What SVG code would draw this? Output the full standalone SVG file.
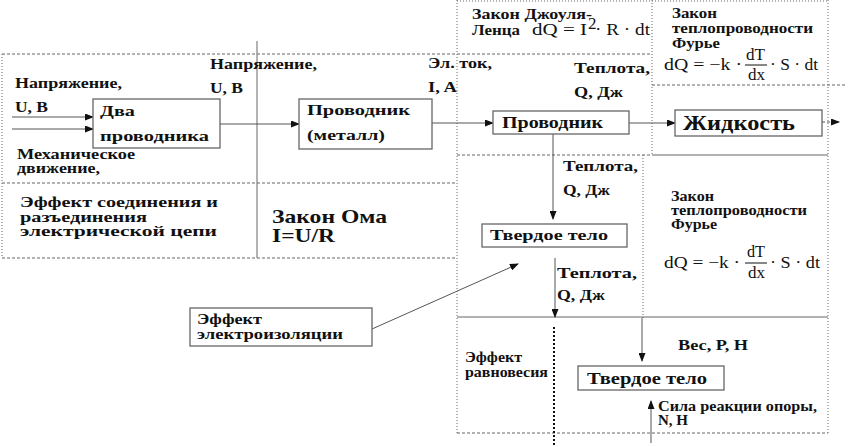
<svg xmlns="http://www.w3.org/2000/svg" width="864" height="447" viewBox="0 0 864 447" font-family="'Liberation Serif', 'DejaVu Serif', serif">
<style>
text{font-family:'Liberation Serif','DejaVu Serif',serif;font-weight:bold;fill:#111;}
.t{font-size:14px;}
.f{font-weight:normal;font-size:17px;}
.box{fill:#fff;stroke:#666;stroke-width:1.3;}
.dash{fill:none;stroke:#666;stroke-width:1;stroke-dasharray:3,2;}
.dot{fill:none;stroke:#666;stroke-width:1;stroke-dasharray:1,2;}
.solid{fill:none;stroke:#666;stroke-width:1;}
.con{fill:none;stroke:#555;stroke-width:1;marker-end:url(#ah);}
</style>
<defs>
<marker id="ah" markerWidth="9" markerHeight="7" refX="8" refY="3.5" orient="auto" markerUnits="userSpaceOnUse">
<path d="M0,0 L9,3.5 L0,7 Z" fill="#111"/>
</marker>
</defs>
<rect width="864" height="447" fill="#fff"/>
<g id="frames">
<line class="dot" x1="2" y1="54" x2="2" y2="258"/>
<line class="dash" x1="2" y1="54" x2="652" y2="54"/>
<line class="dash" x1="2" y1="183" x2="457" y2="183"/>
<line class="dash" x1="2" y1="258" x2="457" y2="258"/>
<line class="solid" x1="257" y1="41" x2="257" y2="258"/>
<line class="dot" x1="457" y1="0" x2="457" y2="433"/>
<line class="dot" x1="457" y1="1" x2="828" y2="1"/>
<line class="dot" x1="652" y1="0" x2="652" y2="155"/>
<line class="dash" x1="652" y1="85" x2="847" y2="85"/>
<line class="dot" x1="828" y1="0" x2="828" y2="433"/>
<line class="dash" x1="457" y1="155" x2="652" y2="155"/>
<line class="solid" x1="652" y1="155" x2="828" y2="155"/>
<line class="dot" x1="643" y1="155" x2="643" y2="318"/>
<line class="solid" x1="457" y1="317" x2="828" y2="317"/>
<line class="dash" x1="457" y1="433" x2="828" y2="433"/>
<line x1="554" y1="327" x2="554" y2="447" stroke="#111" stroke-width="2" stroke-dasharray="2,2"/>
</g>
<g id="connectors">
<line class="con" x1="12" y1="117" x2="93" y2="117"/>
<line class="con" x1="12" y1="129" x2="93" y2="129"/>
<line class="con" x1="220" y1="124" x2="299" y2="124"/>
<line class="con" x1="432" y1="123" x2="493" y2="123"/>
<line class="con" x1="629" y1="123" x2="675" y2="123"/>
<line class="con" x1="822" y1="122" x2="839" y2="122" stroke-dasharray="3,2"/>
<line class="con" x1="553" y1="134" x2="553" y2="219"/>
<line class="con" x1="555" y1="258" x2="555" y2="317"/>
<line class="con" x1="372" y1="329" x2="518" y2="264"/>
<line class="con" x1="642" y1="318" x2="642" y2="361"/>
<line class="con" x1="651" y1="443" x2="651" y2="401"/>
</g>
<g id="labels-left">
<text class="t" x="15" y="88" textLength="107" lengthAdjust="spacingAndGlyphs">Напряжение,</text>
<text class="t" x="15" y="112" textLength="33" lengthAdjust="spacingAndGlyphs">U, B</text>
<text class="t" x="17" y="159" textLength="118" lengthAdjust="spacingAndGlyphs">Механическое</text>
<text class="t" x="17" y="173" textLength="83" lengthAdjust="spacingAndGlyphs">движение,</text>
<text class="t" x="210" y="69" textLength="107" lengthAdjust="spacingAndGlyphs">Напряжение,</text>
<text class="t" x="210" y="93" textLength="33" lengthAdjust="spacingAndGlyphs">U, B</text>
<text class="t" x="428" y="68" textLength="64" lengthAdjust="spacingAndGlyphs">Эл. ток,</text>
<text class="t" x="428" y="92" textLength="29" lengthAdjust="spacingAndGlyphs">I, A</text>
<text class="t" x="574" y="73" textLength="76" lengthAdjust="spacingAndGlyphs">Теплота,</text>
<text class="t" x="574" y="97" textLength="49" lengthAdjust="spacingAndGlyphs">Q, Дж</text>
<text class="t" x="563" y="171" textLength="75" lengthAdjust="spacingAndGlyphs">Теплота,</text>
<text class="t" x="563" y="195" textLength="47" lengthAdjust="spacingAndGlyphs">Q, Дж</text>
<text class="t" x="557" y="278" textLength="80" lengthAdjust="spacingAndGlyphs">Теплота,</text>
<text class="t" x="557" y="300" textLength="48" lengthAdjust="spacingAndGlyphs">Q, Дж</text>
<text class="t" x="678" y="350" textLength="70" lengthAdjust="spacingAndGlyphs">Вес, Р, Н</text>
<text class="t" x="658" y="411" font-size="12" textLength="159" lengthAdjust="spacingAndGlyphs">Сила реакции опоры,</text>
<text class="t" x="658" y="425" font-size="12" textLength="30" lengthAdjust="spacingAndGlyphs">N, H</text>
</g>
<g id="area-connect">
<text class="t" x="20" y="207" textLength="198" lengthAdjust="spacingAndGlyphs">Эффект соединения и</text>
<text class="t" x="20" y="222" textLength="127" lengthAdjust="spacingAndGlyphs">разъединения</text>
<text class="t" x="20" y="236" textLength="197" lengthAdjust="spacingAndGlyphs">электрической цепи</text>
</g>
<g id="area-ohm">
<text x="272" y="223" font-size="19" textLength="115" lengthAdjust="spacingAndGlyphs">Закон Ома</text>
<text x="272" y="242" font-size="19" textLength="63" lengthAdjust="spacingAndGlyphs">I=U/R</text>
</g>
<g id="area-joule">
<text class="t" x="472" y="19" font-size="13" textLength="120" lengthAdjust="spacingAndGlyphs">Закон Джоуля-</text>
<text class="t" x="472" y="35" font-size="13" textLength="48" lengthAdjust="spacingAndGlyphs">Ленца</text>
<text class="f" x="532" y="35" textLength="55" lengthAdjust="spacingAndGlyphs">dQ = I</text>
<text class="f" x="588" y="29" font-size="10">2</text>
<text class="f" x="595" y="35" textLength="55" lengthAdjust="spacingAndGlyphs">· R · dt</text>
</g>
<g id="area-fourier-1">
<text class="t" x="672" y="18" font-size="13" textLength="45" lengthAdjust="spacingAndGlyphs">Закон</text>
<text class="t" x="672" y="33" font-size="13" textLength="141" lengthAdjust="spacingAndGlyphs">теплопроводности</text>
<text class="t" x="672" y="48" font-size="13" textLength="48" lengthAdjust="spacingAndGlyphs">Фурье</text>
<text class="f" x="664" y="70" textLength="78" lengthAdjust="spacingAndGlyphs">dQ = −k ·</text>
<text class="f" x="746" y="60" textLength="19" lengthAdjust="spacingAndGlyphs">dT</text>
<line x1="745" y1="65" x2="767" y2="65" stroke="#111" stroke-width="1"/>
<text class="f" x="748" y="80" textLength="17" lengthAdjust="spacingAndGlyphs">dx</text>
<text class="f" x="770" y="70" textLength="48" lengthAdjust="spacingAndGlyphs">· S · dt</text>
</g>
<g id="area-fourier-2">
<text class="t" x="671" y="201" font-size="13" textLength="43" lengthAdjust="spacingAndGlyphs">Закон</text>
<text class="t" x="671" y="215" font-size="13" textLength="136" lengthAdjust="spacingAndGlyphs">теплопроводности</text>
<text class="t" x="671" y="229" font-size="13" textLength="46" lengthAdjust="spacingAndGlyphs">Фурье</text>
<text class="f" x="664" y="268" textLength="76" lengthAdjust="spacingAndGlyphs">dQ = −k ·</text>
<text class="f" x="747" y="257" textLength="18" lengthAdjust="spacingAndGlyphs">dT</text>
<line x1="745" y1="263" x2="767" y2="263" stroke="#111" stroke-width="1"/>
<text class="f" x="748" y="278" textLength="17" lengthAdjust="spacingAndGlyphs">dx</text>
<text class="f" x="770" y="268" textLength="50" lengthAdjust="spacingAndGlyphs">· S · dt</text>
</g>
<g id="area-balance">
<text class="t" x="465" y="362" font-size="11" textLength="57" lengthAdjust="spacingAndGlyphs">Эффект</text>
<text class="t" x="465" y="377" font-size="11" textLength="83" lengthAdjust="spacingAndGlyphs">равновесия</text>
</g>
<g id="node-two-conductors">
<rect class="box" x="93" y="99" width="127" height="49"/>
<text x="100" y="116" font-size="15" textLength="35" lengthAdjust="spacingAndGlyphs">Два</text>
<text x="100" y="141" font-size="15" textLength="109" lengthAdjust="spacingAndGlyphs">проводника</text>
</g>
<g id="node-conductor-metal">
<rect class="box" x="299" y="99" width="133" height="50"/>
<text x="307" y="115" font-size="15" textLength="103" lengthAdjust="spacingAndGlyphs">Проводник</text>
<text x="307" y="140" font-size="15" textLength="78" lengthAdjust="spacingAndGlyphs">(металл)</text>
</g>
<g id="node-conductor">
<rect class="box" x="493" y="111" width="136" height="23"/>
<text x="502" y="128" font-size="16" textLength="101" lengthAdjust="spacingAndGlyphs">Проводник</text>
</g>
<g id="node-liquid">
<rect class="box" x="675" y="110" width="147" height="26"/>
<text x="683" y="130" font-size="20" textLength="112" lengthAdjust="spacingAndGlyphs">Жидкость</text>
</g>
<g id="node-solid-1">
<rect class="box" x="482" y="224" width="145" height="23"/>
<text x="490" y="240" font-size="15" textLength="118" lengthAdjust="spacingAndGlyphs">Твердое тело</text>
</g>
<g id="node-insulation">
<rect class="box" x="190" y="308" width="182" height="38"/>
<text class="t" x="197" y="324" font-size="13" textLength="65" lengthAdjust="spacingAndGlyphs">Эффект</text>
<text class="t" x="197" y="339" font-size="13" textLength="146" lengthAdjust="spacingAndGlyphs">электроизоляции</text>
</g>
<g id="node-solid-2">
<rect class="box" x="578" y="366" width="146" height="24"/>
<text x="587" y="384" font-size="16" textLength="120" lengthAdjust="spacingAndGlyphs">Твердое тело</text>
</g>
</svg>
